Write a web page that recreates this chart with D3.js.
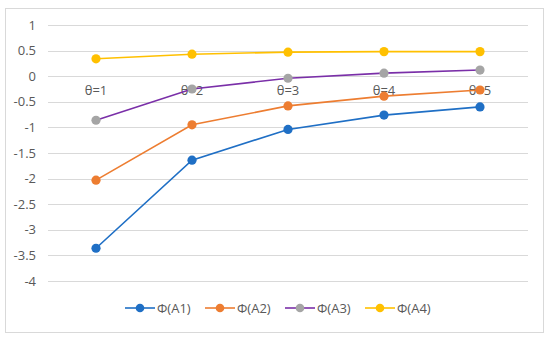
<!DOCTYPE html>
<html>
<head>
<meta charset="utf-8">
<script src="https://cdn.jsdelivr.net/npm/d3@7"></script>
<style>
  body { margin: 0; background: #fff; }
  text { font-family: "Open Sans", "Noto Sans", sans-serif; }
</style>
</head>
<body>
<script>
'use strict';

// categories and series values
const categories = ["θ=1", "θ=2", "θ=3", "θ=4", "θ=5"];
const seriesNames = ["Φ(A1)", "Φ(A2)", "Φ(A3)", "Φ(A4)"];
const a1 = [-3.36, -1.64, -1.04, -0.76, -0.60];
const a2 = [-2.03, -0.95, -0.58, -0.39, -0.27];
const a3 = [-0.86, -0.25, -0.04, 0.06, 0.12];
const a4 = [0.34, 0.43, 0.47, 0.48, 0.48];
const yTicks = [1, 0.5, 0, -0.5, -1, -1.5, -2, -2.5, -3, -3.5, -4];

const lineColors = ["#1f6fc5", "#ed7d31", "#7a2fa8", "#ffc000"];
const markerColors = ["#1f6fc5", "#ed7d31", "#a5a5a5", "#ffc000"];

const width = 550, height = 339;

let svg = d3.select('body')
  .append('svg')
  .attr('width', width)
  .attr('height', height);

// chart border
svg.append('rect')
  .attr('x', 5.5).attr('y', 8.5)
  .attr('width', 538).attr('height', 324)
  .attr('fill', 'none')
  .attr('stroke', '#d9d9d9');

let xScale = d3.scaleBand()
  .domain(categories)
  .range([48, 528]);

let yScale = d3.scaleLinear()
  .domain([-4, 1])
  .range([281, 25]);

// gridlines
svg.append('g')
  .selectAll('line')
  .data(yTicks)
  .enter()
  .append('line')
    .attr('x1', 48).attr('x2', 528)
    .attr('y1', (d) => Math.round(yScale(d)) + 0.5)
    .attr('y2', (d) => Math.round(yScale(d)) + 0.5)
    .attr('stroke', '#d9d9d9')
    .attr('stroke-width', 1);

// y axis labels
let yAxis = d3.axisLeft(yScale).tickValues(yTicks).tickSize(0).tickPadding(12)
  .tickFormat((d) => d3.format('')(d).replace('−', '-'));
let yg = svg.append('g')
  .attr('transform', 'translate(48, 0)')
  .call(yAxis);
yg.select('.domain').remove();
yg.selectAll('text')
  .attr('fill', '#595959')
  .style('font-size', '13px');

// category labels sit just under the zero line
let xAxis = d3.axisBottom(xScale).tickSize(0).tickPadding(10);
let xg = svg.append('g')
  .attr('transform', `translate(0, ${yScale(0)})`)
  .call(xAxis);
xg.select('.domain').remove();
xg.selectAll('text')
  .attr('fill', '#595959')
  .style('font-size', '13px');

const allSeries = [a1, a2, a3, a4];
let xPos = (i) => xScale(categories[i]) + xScale.bandwidth() / 2;

let line = d3.line()
  .x((d, i) => xPos(i))
  .y((d) => yScale(d));

allSeries.forEach((vals, s) => {
  svg.append('path')
    .datum(vals)
    .attr('d', line)
    .attr('fill', 'none')
    .attr('stroke', lineColors[s])
    .attr('stroke-width', 1.6);

  svg.selectAll('.dot' + s)
    .data(vals)
    .enter()
    .append('circle')
      .attr('cx', (d, i) => xPos(i))
      .attr('cy', (d) => yScale(d))
      .attr('r', 4.6)
      .attr('fill', markerColors[s]);
});

// legend
const legendX = [125, 205, 285, 365];
let legend = svg.append('g');
seriesNames.forEach((name, s) => {
  let g = legend.append('g').attr('transform', `translate(${legendX[s]}, 308)`);
  g.append('line')
    .attr('x1', 0).attr('x2', 30)
    .attr('y1', 0).attr('y2', 0)
    .attr('stroke', lineColors[s])
    .attr('stroke-width', 1.6);
  g.append('circle')
    .attr('cx', 15).attr('cy', 0).attr('r', 4.3)
    .attr('fill', markerColors[s]);
  g.append('text')
    .attr('x', 32).attr('y', 4.5)
    .attr('fill', '#595959')
    .style('font-size', '13px')
    .text(name);
});
</script>
</body>
</html>
